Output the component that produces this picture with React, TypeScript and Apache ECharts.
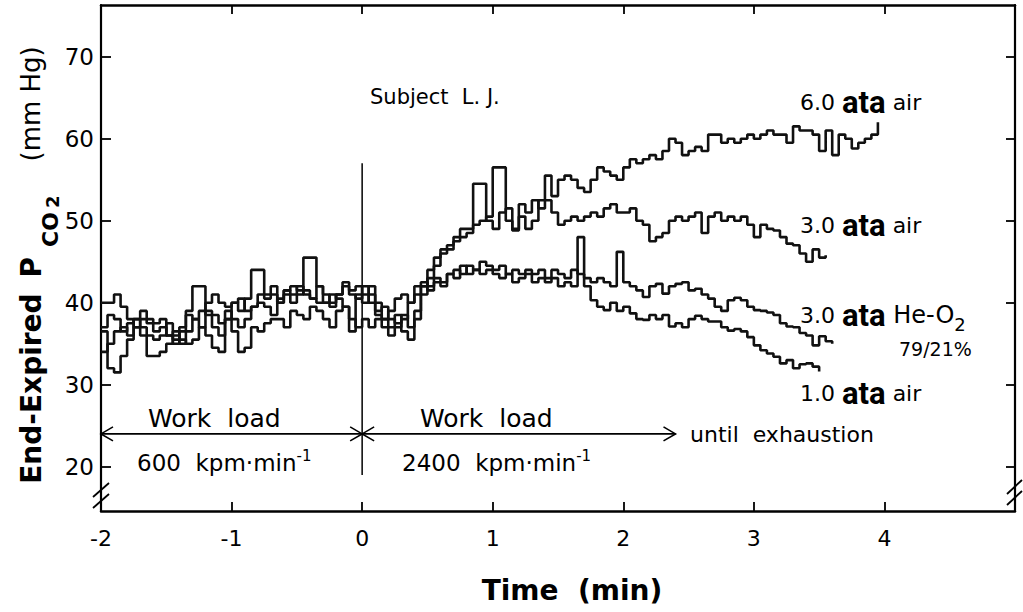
import React, { useEffect, useRef } from "react";
import * as echarts from "echarts";

// ---- data ----
const T_START = -2; // min, first sample
const DT = 0.05; // min, sample spacing (breath-by-breath steps)

const ata6Air = [
  37, 38.5, 38, 36.5, 37.5, 38, 37, 36, 35.5, 36, 37.5, 36, 35, 36.5, 38, 37, 39, 38.5, 37.5, 39,
  38, 37, 38, 39.5, 40, 39.5, 38.5, 40.5, 41, 40, 42, 41.5, 40.5, 42, 41, 40, 41, 42, 41, 40.5,
  41, 40, 39, 39.5, 38, 37.5, 38.5, 37, 39, 41,
  43, 44.5, 46, 46.5, 47.5, 48, 48.5, 49.5, 50, 50.5,
  56.5, 56.5, 50, 49, 52, 51, 52.5, 51.5, 55.5, 53,
  55, 55.5, 55, 54, 53.5, 55, 56.5, 56, 55.5, 55,
  56.5, 57.5, 57, 57.5, 58, 57.5, 58.5, 60, 59.5, 58,
  58.5, 59, 58.5, 60.5, 60.5, 59.5, 60, 59.5, 60, 60.5,
  60, 60.5, 61, 60.5, 60.5, 59.5, 61.5, 61, 61, 60.5,
  58.5, 61, 58, 60.5, 60, 58.8, 59.5, 60, 60.5, 62,
];

const ata3Air = [
  34, 35, 36.5, 37, 36, 38, 39, 38, 37.5, 38, 36, 35, 36.5, 39, 42, 42, 38.5, 37, 36, 38,
  40, 39, 40.5, 44, 44, 41, 42, 40, 41.5, 41, 41, 45.5, 45.5, 42, 40, 39.5, 41, 42.5, 41.5, 42,
  40, 42, 38.5, 38, 37, 38.5, 36.5, 35.5, 38, 42,
  44, 45.5, 46.5, 47, 48, 49, 49, 54.5, 54.5, 50,
  49, 51, 51.5, 48.8, 50.5, 49, 50, 52.5, 52.5, 51,
  49.5, 50, 50.5, 50, 50.5, 51, 50.5, 51.5, 52, 51,
  51, 51.5, 50, 49.5, 47.5, 48, 48.5, 50, 50.5, 50,
  50.5, 51, 48.5, 50.5, 51, 50, 50.5, 50, 50.5, 49.5,
  48, 49.5, 49, 48.8, 48, 47.2, 47, 46, 45, 46.5,
  45.5, 45.8,
];

const ata3HeO2 = [
  40, 40, 41, 39.5, 38, 37, 38, 37.5, 36.5, 37, 36, 35.5, 37, 38.5, 38, 39, 40, 41, 40, 39.5,
  40, 40.5, 39, 39.5, 41, 40.5, 41, 40, 41.5, 42, 41.5, 41, 40.5, 40, 40, 41, 40.5, 39.5, 36.5, 41,
  42, 41, 40, 38, 39, 40.5, 41, 40, 42, 42.5,
  42, 43, 42.5, 43.5, 44, 43.5, 44.5, 44, 45, 44.5,
  44, 44.5, 43.5, 44, 43.5, 44, 43.5, 44, 43, 44,
  43.5, 43, 44, 43.5, 43, 42.5, 43, 42.5, 42, 46.2,
  42.5, 42, 41.5, 40.7, 42, 42.3, 41.1, 42, 42.3, 42.5,
  41.5, 41.7, 41, 40.5, 39.5, 39, 40.3, 40.6, 40.3, 39.5,
  39.1, 39, 38.8, 38.5, 37.5, 37.1, 37, 36.3, 36, 34.8,
  35.9, 35.3, 35,
];

const ata1Air = [
  36.5, 32, 31.5, 33.5, 35.5, 37, 36, 33.5, 33.5, 34, 35, 36.5, 35.5, 35, 35.5, 37, 36, 34.5, 34, 38,
  36.5, 34, 34.5, 37, 36.5, 37.5, 38, 38, 37, 39, 38.5, 38, 39.5, 39, 38, 37, 39, 39.5, 38, 37,
  38, 37, 38, 37, 36, 37, 38, 40, 41, 42,
  41.5, 42.5, 42, 43.5, 43, 44.5, 43.5, 44, 43.5, 44,
  43.5, 43, 43.5, 42.5, 43, 43.5, 42.5, 43, 42.5, 43,
  42, 42.5, 42, 48, 42, 40.3, 39.5, 39.1, 40, 39,
  39.5, 38.7, 38, 37.9, 38.5, 38, 38.5, 37.1, 37.5, 37,
  38, 38.4, 38, 37.7, 37.7, 37, 36.6, 36.8, 36.5, 35.8,
  34.8, 34.2, 33.8, 33.4, 32.6, 33, 32, 32.5, 32.6, 32.2,
  31.6,
];

const xTicks = [-2, -1, 0, 1, 2, 3, 4];
const yTicks = [20, 30, 40, 50, 60, 70];
// [from, to, level] of the work-load arrows (min, min, mm Hg)
const workLoadArrows = [
  [-2, 0, 24],
  [0, 2.4, 24],
];
// vertical marker at start of the heavy work load
const startMarker = [
  [0, 57],
  [0, 19],
];

const FONT = "'DejaVu Sans', 'Liberation Sans', sans-serif";
const ATA_FONT = "Roboto, 'Open Sans', sans-serif";

function toPoints(vals: number[]) {
  return vals.map((v, i) => [Math.round((T_START + i * DT) * 100) / 100, v]);
}

function traceSeries(name: string, vals: number[]) {
  return {
    name,
    type: "line",
    step: "end",
    data: toPoints(vals),
    symbol: "none",
    silent: true,
    lineStyle: { color: "#111", width: 2.6 },
    z: 3,
  };
}

function ataLabel(x: number, y: number, pre: string, post: string) {
  return {
    type: "text",
    x,
    y,
    silent: true,
    style: {
      text: `{n|${pre} }{a|ata}{n| ${post}}`,
      align: "left",
      verticalAlign: "middle",
      rich: {
        n: { fontSize: 22, fontFamily: FONT, fill: "#000", lineHeight: 36, verticalAlign: "middle" },
        a: { fontSize: 31, fontFamily: ATA_FONT, fontWeight: "bold", fill: "#000", lineHeight: 36, verticalAlign: "middle" },
      },
    },
  };
}

export default function App() {
  const ref = useRef<HTMLDivElement>(null);

  useEffect(() => {
    if (!ref.current) return;
    const chart = echarts.init(ref.current, undefined, { renderer: "svg" });

    const axisCommon = {
      type: "value",
      splitLine: { show: false },
    };

    const option: any = {
      animation: false,
      backgroundColor: "#fff",
      grid: { left: 101, right: 8, top: 5, bottom: 101 },
      xAxis: [
        {
          ...axisCommon,
          min: -2,
          max: 5,
          position: "bottom",
          axisLine: { show: true, onZero: false, lineStyle: { color: "#000", width: 2.5 } },
          axisTick: {
            show: true,
            inside: true,
            length: 9,
            customValues: xTicks,
            lineStyle: { color: "#000", width: 1.8 },
          },
          axisLabel: {
            customValues: xTicks,
            color: "#000",
            fontSize: 22,
            fontFamily: FONT,
            margin: 16,
          },
        },
        {
          ...axisCommon,
          min: -2,
          max: 5,
          position: "top",
          axisLine: { show: true, onZero: false, lineStyle: { color: "#000", width: 2.5 } },
          axisTick: {
            show: true,
            inside: true,
            length: 9,
            customValues: xTicks,
            lineStyle: { color: "#000", width: 1.8 },
          },
          axisLabel: { show: false },
        },
      ],
      yAxis: [
        {
          ...axisCommon,
          min: 14.6,
          max: 76.3,
          position: "left",
          axisLine: { show: true, onZero: false, lineStyle: { color: "#000", width: 2.2 } },
          axisTick: {
            show: true,
            inside: true,
            length: 10,
            customValues: yTicks,
            lineStyle: { color: "#000", width: 1.8 },
          },
          axisLabel: {
            customValues: yTicks,
            color: "#000",
            fontSize: 23,
            fontFamily: FONT,
            margin: 7,
          },
        },
        {
          ...axisCommon,
          min: 14.6,
          max: 76.3,
          position: "right",
          axisLine: { show: true, onZero: false, lineStyle: { color: "#000", width: 2.2 } },
          axisTick: {
            show: true,
            inside: true,
            length: 9,
            customValues: yTicks,
            lineStyle: { color: "#000", width: 1.8 },
          },
          axisLabel: { show: false },
        },
      ],
      series: [
        traceSeries("6.0 ata air", ata6Air),
        traceSeries("3.0 ata air", ata3Air),
        traceSeries("3.0 ata He-O2", ata3HeO2),
        traceSeries("1.0 ata air", ata1Air),
        {
          name: "start",
          type: "line",
          data: startMarker,
          symbol: "none",
          silent: true,
          lineStyle: { color: "#000", width: 1.5 },
          z: 2,
        },
        {
          name: "work load",
          type: "custom",
          silent: true,
          data: workLoadArrows,
          encode: { x: [0, 1], y: 2 },
          renderItem: (_params: any, api: any) => {
            const p1 = api.coord([api.value(0), api.value(2)]);
            const p2 = api.coord([api.value(1), api.value(2)]);
            const ax = 12;
            const ay = 7;
            const st = { stroke: "#000", lineWidth: 1.6, fill: "none" };
            return {
              type: "group",
              children: [
                { type: "line", shape: { x1: p1[0], y1: p1[1], x2: p2[0], y2: p2[1] }, style: st },
                {
                  type: "polyline",
                  shape: { points: [[p1[0] + ax, p1[1] - ay], [p1[0], p1[1]], [p1[0] + ax, p1[1] + ay]] },
                  style: st,
                },
                {
                  type: "polyline",
                  shape: { points: [[p2[0] - ax, p2[1] - ay], [p2[0], p2[1]], [p2[0] - ax, p2[1] + ay]] },
                  style: st,
                },
              ],
            };
          },
        },
      ],
      graphic: [
        // axis breaks
        { type: "rect", silent: true, shape: { x: 94, y: 485, width: 14, height: 14 }, style: { fill: "#fff" } },
        { type: "line", silent: true, shape: { x1: 93, y1: 497, x2: 109, y2: 483 }, style: { stroke: "#000", lineWidth: 1.8 } },
        { type: "line", silent: true, shape: { x1: 93, y1: 508, x2: 109, y2: 494 }, style: { stroke: "#000", lineWidth: 1.8 } },
        { type: "rect", silent: true, shape: { x: 1008, y: 482, width: 14, height: 14 }, style: { fill: "#fff" } },
        { type: "line", silent: true, shape: { x1: 1007, y1: 494, x2: 1022, y2: 480 }, style: { stroke: "#000", lineWidth: 1.8 } },
        { type: "line", silent: true, shape: { x1: 1007, y1: 505, x2: 1022, y2: 491 }, style: { stroke: "#000", lineWidth: 1.8 } },
        // y axis title
        {
          type: "text",
          x: 31,
          y: 265,
          rotation: Math.PI / 2,
          silent: true,
          style: {
            text: "{b|End-Expired}{p|P}{c|CO}{s|2}{r|(mm Hg)}",
            align: "center",
            verticalAlign: "middle",
            rich: {
              b: { fontSize: 28, fontWeight: "bold", fontFamily: FONT, lineHeight: 60, verticalAlign: "middle", fill: "#000" },
              p: { fontSize: 28, fontWeight: "bold", fontFamily: FONT, lineHeight: 60, verticalAlign: "middle", padding: [0, 0, 0, 16], fill: "#000" },
              c: { fontSize: 22, fontWeight: "bold", fontFamily: FONT, lineHeight: 40, verticalAlign: "bottom", padding: [0, 0, 0, 10], fill: "#000" },
              s: { fontSize: 18, fontWeight: "bold", fontFamily: FONT, lineHeight: 18, verticalAlign: "bottom", padding: [0, 0, 0, 4], fill: "#000" },
              r: { fontSize: 26, fontFamily: FONT, lineHeight: 60, verticalAlign: "middle", padding: [0, 0, 0, 34], fill: "#000" },
            },
          },
        },
        // x axis title
        {
          type: "text",
          x: 572,
          y: 590,
          silent: true,
          style: {
            text: "Time  (min)",
            align: "center",
            verticalAlign: "middle",
            fontSize: 28,
            fontWeight: "bold",
            fontFamily: FONT,
            fill: "#000",
          },
        },
        {
          type: "text",
          x: 370,
          y: 97,
          silent: true,
          style: { text: "Subject  L. J.", align: "left", verticalAlign: "middle", fontSize: 21, fontFamily: FONT, fill: "#000" },
        },
        {
          type: "text",
          x: 148,
          y: 418,
          silent: true,
          style: { text: "Work  load", align: "left", verticalAlign: "middle", fontSize: 25, fontFamily: FONT, fill: "#000" },
        },
        {
          type: "text",
          x: 420,
          y: 418,
          silent: true,
          style: { text: "Work  load", align: "left", verticalAlign: "middle", fontSize: 25, fontFamily: FONT, fill: "#000" },
        },
        {
          type: "text",
          x: 137,
          y: 463,
          silent: true,
          style: {
            text: "{n|600  kpm·min}{u|-1}",
            align: "left",
            verticalAlign: "middle",
            rich: {
              n: { fontSize: 23, fontFamily: FONT, fill: "#000", lineHeight: 30, verticalAlign: "middle" },
              u: { fontSize: 15, fontFamily: FONT, fill: "#000", lineHeight: 15, verticalAlign: "top" },
            },
          },
        },
        {
          type: "text",
          x: 402,
          y: 463,
          silent: true,
          style: {
            text: "{n|2400  kpm·min}{u|-1}",
            align: "left",
            verticalAlign: "middle",
            rich: {
              n: { fontSize: 23, fontFamily: FONT, fill: "#000", lineHeight: 30, verticalAlign: "middle" },
              u: { fontSize: 15, fontFamily: FONT, fill: "#000", lineHeight: 15, verticalAlign: "top" },
            },
          },
        },
        {
          type: "text",
          x: 690,
          y: 434,
          silent: true,
          style: { text: "until  exhaustion", align: "left", verticalAlign: "middle", fontSize: 22, fontFamily: FONT, fill: "#000" },
        },
        ataLabel(800, 102, "6.0", "air"),
        ataLabel(800, 225, "3.0", "air"),
        {
          type: "text",
          x: 800,
          y: 315,
          silent: true,
          style: {
            text: "{n|3.0 }{a|ata}{h| He-O}{s|2}",
            align: "left",
            verticalAlign: "middle",
            rich: {
              n: { fontSize: 22, fontFamily: FONT, fill: "#000", lineHeight: 36, verticalAlign: "middle" },
              a: { fontSize: 31, fontFamily: ATA_FONT, fontWeight: "bold", fill: "#000", lineHeight: 36, verticalAlign: "middle" },
              h: { fontSize: 24, fontFamily: FONT, fill: "#000", lineHeight: 36, verticalAlign: "middle" },
              s: { fontSize: 18, fontFamily: FONT, fill: "#000", lineHeight: 16, verticalAlign: "bottom" },
            },
          },
        },
        {
          type: "text",
          x: 899,
          y: 349,
          silent: true,
          style: { text: "79/21%", align: "left", verticalAlign: "middle", fontSize: 19, fontFamily: FONT, fill: "#000" },
        },
        ataLabel(800, 393, "1.0", "air"),
      ],
    };

    chart.setOption(option);
    return () => chart.dispose();
  }, []);

  return (
    <div
      ref={ref}
      style={{ position: "absolute", left: 0, top: 0, width: 1023, height: 612, background: "#fff" }}
    />
  );
}
